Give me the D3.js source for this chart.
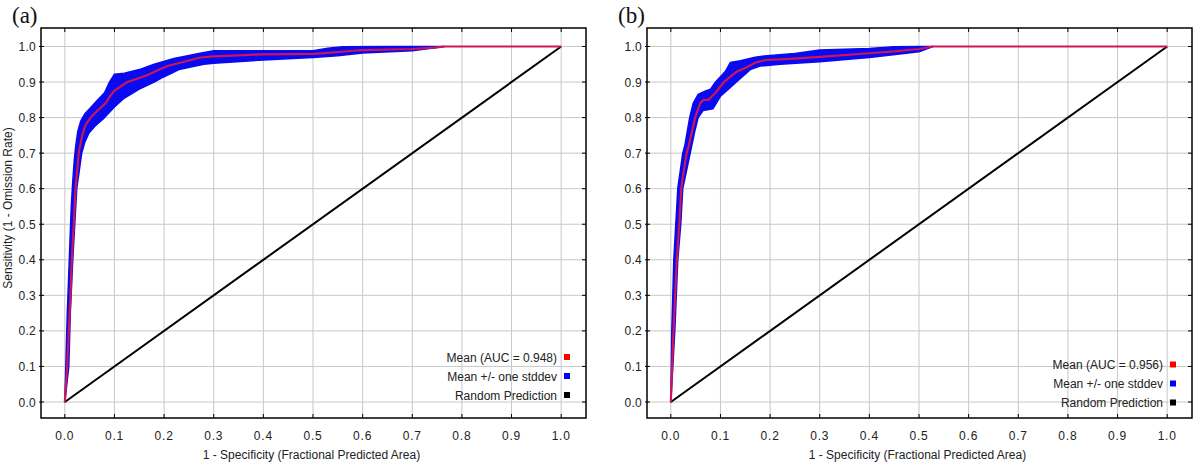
<!DOCTYPE html>
<html>
<head>
<meta charset="utf-8">
<style>
  body { margin: 0; background: #fff; }
  svg text { font-family: "Liberation Sans", Arial, sans-serif; }
</style>
</head>
<body>
<div id="chart"></div>
<script src="https://d3js.org/d3.v7.min.js"></script>
<script>
// ---- data ----
const xTicks = [0.0, 0.1, 0.2, 0.3, 0.4, 0.5, 0.6, 0.7, 0.8, 0.9, 1.0];
const yTicks = [0.0, 0.1, 0.2, 0.3, 0.4, 0.5, 0.6, 0.7, 0.8, 0.9, 1.0];
const panelLabels = ["(a)", "(b)"];
const xTitle = "1 - Specificity (Fractional Predicted Area)";
const yTitle = "Sensitivity (1 - Omission Rate)";
const aucValues = [0.948, 0.956];
const legendLabels = ["Mean (AUC = {auc})", "Mean +/- one stddev", "Random Prediction"];

// panel (a): mean curve and +/- one stddev band edges, [x, y]
const meanA = [[0,0],[0.0047,0.1],[0.008,0.2],[0.0115,0.3],[0.014,0.4],[0.018,0.5],[0.0216,0.6],
  [0.028,0.7],[0.035,0.75],[0.042,0.78],[0.052,0.8],[0.066,0.82],[0.082,0.84],[0.091,0.86],
  [0.1,0.876],[0.126,0.9],[0.147,0.91],[0.167,0.92],[0.187,0.933],[0.207,0.945],[0.24,0.957],
  [0.273,0.969],[0.3,0.972],[0.35,0.975],[0.4,0.978],[0.5,0.979],[0.53,0.982],[0.58,0.988],
  [0.6,0.99],[0.7,0.993],[0.745,0.997],[0.765,1.0],[1.0,1.0]];
const upperA = [[0,0],[0.002,0.1],[0.005,0.25],[0.009,0.4],[0.013,0.55],[0.016,0.62],[0.019,0.68],
  [0.022,0.72],[0.026,0.76],[0.032,0.79],[0.04,0.81],[0.05,0.825],[0.065,0.848],[0.08,0.87],
  [0.09,0.9],[0.1,0.922],[0.12,0.925],[0.15,0.935],[0.18,0.95],[0.22,0.966],[0.27,0.98],
  [0.3,0.988],[0.4,0.988],[0.5,0.988],[0.53,0.995],[0.56,0.999],[0.65,1.0],[0.765,1.0]];
const lowerA = [[0,0],[0.008,0.1],[0.011,0.25],[0.016,0.4],[0.02,0.5],[0.024,0.6],[0.03,0.66],
  [0.034,0.7],[0.04,0.73],[0.048,0.755],[0.06,0.775],[0.08,0.8],[0.1,0.83],[0.12,0.855],
  [0.15,0.88],[0.18,0.9],[0.2,0.915],[0.23,0.935],[0.28,0.95],[0.3,0.953],[0.4,0.962],
  [0.5,0.969],[0.55,0.974],[0.6,0.982],[0.7,0.988],[0.765,1.0]];

// panel (b)
const meanB = [[0,0],[0.0054,0.2],[0.012,0.4],[0.017,0.5],[0.021,0.6],[0.026,0.65],[0.032,0.7],
  [0.036,0.72],[0.041,0.75],[0.049,0.8],[0.059,0.84],[0.066,0.85],[0.076,0.85],[0.09,0.87],
  [0.107,0.9],[0.124,0.92],[0.134,0.93],[0.151,0.94],[0.171,0.955],[0.191,0.962],[0.24,0.965],
  [0.3,0.971],[0.4,0.981],[0.45,0.986],[0.5,0.993],[0.528,1.0],[1.0,1.0]];
const upperB = [[0,0],[0.002,0.2],[0.006,0.4],[0.01,0.5],[0.014,0.6],[0.02,0.66],[0.024,0.7],
  [0.028,0.72],[0.033,0.76],[0.038,0.8],[0.045,0.84],[0.055,0.865],[0.07,0.875],[0.08,0.88],
  [0.09,0.9],[0.1,0.915],[0.11,0.93],[0.12,0.955],[0.14,0.96],[0.17,0.97],[0.2,0.975],
  [0.25,0.98],[0.3,0.99],[0.4,0.994],[0.45,0.999],[0.5,1.0],[0.528,1.0]];
const lowerB = [[0,0],[0.008,0.2],[0.014,0.4],[0.02,0.5],[0.024,0.6],[0.03,0.64],[0.036,0.68],
  [0.042,0.72],[0.048,0.76],[0.055,0.8],[0.065,0.82],[0.085,0.825],[0.1,0.86],[0.12,0.885],
  [0.14,0.91],[0.16,0.935],[0.18,0.945],[0.22,0.95],[0.3,0.957],[0.4,0.969],[0.5,0.985],[0.528,1.0]];

const randomLine = [[0,0],[1,1]];
const legendColors = ["#ff0000", "#0000ff", "#000000"];

// ---- layout ----
let width = 1200, height = 462;
let svg = d3.select("#chart").append("svg")
  .attr("width", width)
  .attr("height", height);

let plot_w = 545, plot_h = 390;

let panels = [
  {left: 41, top: 28, label: panelLabels[0], labelX: 12, auc: aucValues[0],
   mean: meanA, upper: upperA, lower: lowerA, legendBottom: 61, showYTitle: true},
  {left: 647, top: 28, label: panelLabels[1], labelX: 618, auc: aucValues[1],
   mean: meanB, upper: upperB, lower: lowerB, legendBottom: 53.5, showYTitle: false}
];

let x = d3.scaleLinear().domain([-0.048, 1.05]).range([0, plot_w]);
let y = d3.scaleLinear().domain([-0.045, 1.052]).range([plot_h, 0]);

let line = d3.line().x(d => x(d[0])).y(d => y(d[1]));

panels.forEach(function(p) {
  // panel label
  svg.append("text")
    .attr("x", p.labelX)
    .attr("y", 23)
    .style("font-family", "'Liberation Serif', 'Times New Roman', serif")
    .style("font-size", "23px")
    .attr("fill", "#111")
    .text(p.label);

  let g = svg.append("g")
    .attr("transform", "translate(" + p.left + "," + p.top + ")");

  // grid
  g.selectAll(".vgrid").data(xTicks).enter().append("line")
    .attr("x1", d => x(d)).attr("x2", d => x(d))
    .attr("y1", 0).attr("y2", plot_h)
    .attr("stroke", "#c8c8c8").attr("stroke-width", 1);
  g.selectAll(".hgrid").data(yTicks).enter().append("line")
    .attr("y1", d => y(d)).attr("y2", d => y(d))
    .attr("x1", 0).attr("x2", plot_w)
    .attr("stroke", "#c8c8c8").attr("stroke-width", 1);

  // stddev band
  let band = p.upper.concat(p.lower.slice().reverse());
  g.append("path")
    .attr("d", line(band) + "Z")
    .attr("fill", "#0a0af0")
    .attr("stroke", "#0a0af0")
    .attr("stroke-width", 1.5)
    .attr("stroke-linejoin", "round");

  // random prediction
  g.append("path")
    .attr("d", line(randomLine))
    .attr("fill", "none")
    .attr("stroke", "#000")
    .attr("stroke-width", 2);

  // mean
  g.append("path")
    .attr("d", line(p.mean))
    .attr("fill", "none")
    .attr("stroke", "#cc1656")
    .attr("stroke-width", 2.2)
    .attr("stroke-linejoin", "round");

  // frame
  g.append("rect")
    .attr("x", 0).attr("y", 0)
    .attr("width", plot_w).attr("height", plot_h)
    .attr("fill", "none")
    .attr("stroke", "#000").attr("stroke-width", 1.5);

  // ticks on all four sides (inward)
  g.selectAll(".tb").data(xTicks).enter().append("line")
    .attr("x1", d => x(d)).attr("x2", d => x(d))
    .attr("y1", plot_h).attr("y2", plot_h - 4)
    .attr("stroke", "#000");
  g.selectAll(".tt").data(xTicks).enter().append("line")
    .attr("x1", d => x(d)).attr("x2", d => x(d))
    .attr("y1", 0).attr("y2", 4)
    .attr("stroke", "#000");
  g.selectAll(".tl").data(yTicks).enter().append("line")
    .attr("y1", d => y(d)).attr("y2", d => y(d))
    .attr("x1", -2).attr("x2", 3)
    .attr("stroke", "#000");
  g.selectAll(".tr").data(yTicks).enter().append("line")
    .attr("y1", d => y(d)).attr("y2", d => y(d))
    .attr("x1", plot_w).attr("x2", plot_w - 4)
    .attr("stroke", "#000");

  // tick labels
  g.selectAll(".xl").data(xTicks).enter().append("text")
    .attr("x", d => x(d))
    .attr("y", plot_h + 22)
    .attr("text-anchor", "middle")
    .style("font-size", "12px")
    .style("letter-spacing", "0.8px")
    .attr("fill", "#222")
    .text(d => d.toFixed(1));
  g.selectAll(".yl").data(yTicks).enter().append("text")
    .attr("x", -5)
    .attr("y", d => y(d) + 4.5)
    .attr("text-anchor", "end")
    .style("font-size", "12px")
    .style("letter-spacing", "0.3px")
    .attr("fill", "#222")
    .text(d => d.toFixed(1));

  // axis titles
  g.append("text")
    .attr("x", plot_w / 2 - 2)
    .attr("y", plot_h + 41)
    .attr("text-anchor", "middle")
    .style("font-size", "12px")
    .attr("fill", "#222")
    .text(xTitle);
  if (p.showYTitle) {
    g.append("text")
      .attr("transform", "translate(" + (-29) + "," + (180) + ") rotate(-90)")
      .attr("text-anchor", "middle")
      .style("font-size", "12px")
      .attr("fill", "#222")
      .text(yTitle);
  }

  // legend
  let legend = g.append("g")
    .attr("transform", "translate(" + (plot_w - 19) + "," + (plot_h - p.legendBottom) + ")");
  legendLabels.forEach(function(lab, i) {
    legend.append("text")
      .attr("x", -10)
      .attr("y", i * 19 + 4.5)
      .attr("text-anchor", "end")
      .style("font-size", "12px")
      .attr("fill", "#222")
      .text(lab.replace("{auc}", p.auc.toFixed(3)));
    legend.append("rect")
      .attr("x", -3).attr("y", i * 19 - 3)
      .attr("width", 6).attr("height", 6)
      .attr("fill", legendColors[i]);
  });
});
</script>
</body>
</html>
